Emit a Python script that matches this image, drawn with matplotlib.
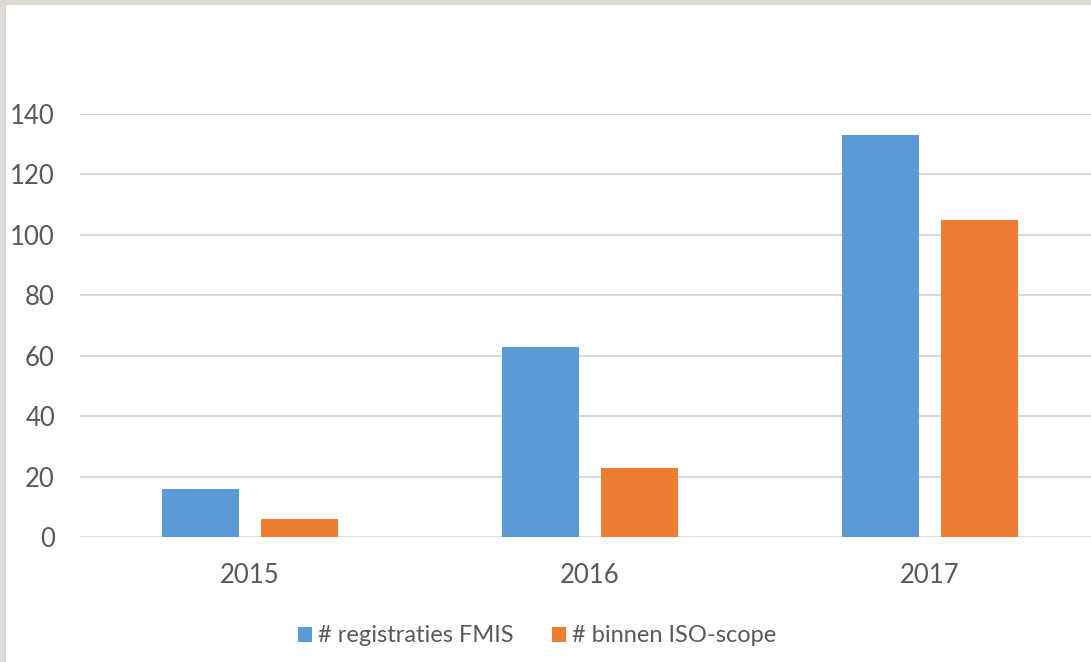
import matplotlib.pyplot as plt
import matplotlib.patches as mpatches
import numpy as np

plt.rcParams['font.family'] = ['Lato', 'DejaVu Sans']

years = ['2015', '2016', '2017']
registraties_fmis = [16, 63, 133]
binnen_iso_scope = [6, 23, 105]
labels = ['# registraties FMIS', '# binnen ISO-scope']
colors = ['#5b9bd5', '#ed7d31']

W, H = 1091, 662
fig = plt.figure(figsize=(W / 100, H / 100), dpi=100)
fig.patch.set_facecolor('#dedbd6')
# white slide panel
fig.patches.append(mpatches.Rectangle((6 / W, 0), 1, 1 - 5 / H, transform=fig.transFigure,
                                      facecolor='white', edgecolor='none', zorder=-5))

ax = fig.add_axes([80 / W, 1 - 537 / H, 1020 / W, 423 / H])
ax.patch.set_visible(False)

x = np.arange(len(years))
width = 0.226
offset = 0.145
ax.bar(x - offset, registraties_fmis, width, color=colors[0], label=labels[0], zorder=3, clip_on=False)
ax.bar(x + offset, binnen_iso_scope, width, color=colors[1], label=labels[1], zorder=3, clip_on=False)

ax.set_xlim(-0.5, 2.5)
ax.set_ylim(0, 140)
ax.set_yticks(range(0, 141, 20))
ax.set_xticks(x)
ax.set_xticklabels(years)
ax.yaxis.grid(True, color='#d9d9d9', linewidth=1.5, zorder=0)
ax.set_axisbelow(True)
for s in ax.spines.values():
    s.set_visible(False)
ax.tick_params(axis='both', length=0, labelsize=18.5, labelcolor='#595959')
ax.tick_params(axis='y', pad=18)
ax.tick_params(axis='x', pad=19)

handles, lbls = ax.get_legend_handles_labels()
fig.legend(handles, lbls, loc='center', bbox_to_anchor=(537 / W, 1 - 636 / H), ncol=2,
           frameon=False, fontsize=17, labelcolor='#595959', handlelength=0.6, handleheight=0.6,
           handletextpad=0.25, columnspacing=1.6)

fig.savefig('out.png', dpi=100, facecolor=fig.get_facecolor())
